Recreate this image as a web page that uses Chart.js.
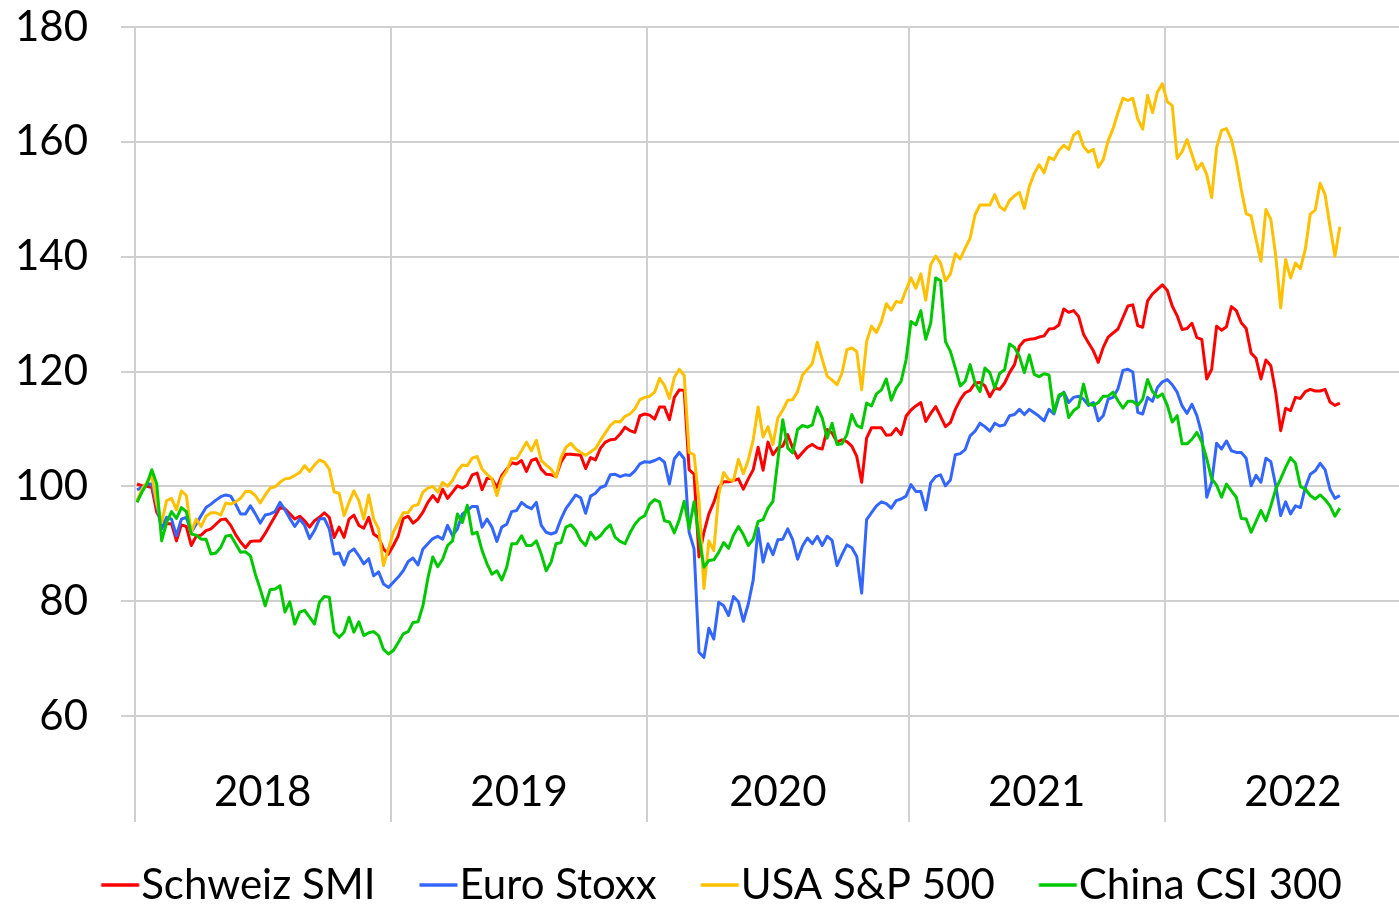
<!DOCTYPE html>
<html>
<head>
<meta charset="utf-8">
<title>Aktienindizes 2018–2022</title>
<script src="https://cdn.jsdelivr.net/npm/chart.js@4.4.1/dist/chart.umd.min.js"></script>
<style>
  html, body { margin: 0; background: #fff; }
  #wrap { width: 1399px; height: 905px; }
</style>
</head>
<body>
<div id="wrap"><canvas id="chart" width="1399" height="905"></canvas></div>
<script>
// weekly closes, indexed to 100 at the start of 2018
const years = ['2018', '2019', '2020', '2021', '2022']
const weeksPerYear = [52, 52, 53, 52, 52]

const smi = [
  100.4, 100.1, 100, 99.8, 95.5, 94, 93.5, 93.5, 90.5, 93.3,
  93, 89.7, 91.3, 91.5, 92.3, 92.6, 93.4, 94.2, 94.3, 93.2,
  91.6, 90.3, 89.3, 90.4, 90.5, 90.5, 91.8, 93.3, 94.8, 96.3,
  96.1, 95.2, 94.3, 94.8, 94, 92.9, 94, 94.6, 95.4, 94.6,
  91.1, 92.9, 91.1, 94.3, 95, 93.2, 92.7, 94.6, 91.7, 91.1,
  89.1, 88.2, 89.7, 91.4, 94.4, 94.8, 93.6, 94.3, 95.5, 97.2,
  98.4, 97.3, 99.5, 97.9, 99, 100.1, 99.7, 100.2, 102, 102.3,
  99.4, 101.4, 101.3, 99.8, 101.9, 103, 104.1, 103.9, 104.5, 102.6,
  104.5, 104.8, 103, 102.1, 102, 101.7, 104.2, 105.6, 105.6, 105.5,
  105.4, 103.1, 105, 104.6, 106.6, 107.7, 108.1, 108.2, 109.1, 110.3,
  109.7, 109.4, 112.3, 112.6, 112.4, 111.7, 113.8, 113.8, 111.6, 115.5,
  116.8, 116.7, 102.9, 102.1, 87.7, 92, 95.2, 97.2, 99.8, 100.8,
  100.8, 101, 101.3, 99.5, 101.3, 102.9, 106.8, 102.8, 107.7, 105.5,
  106.7, 107, 109, 106.7, 104.9, 105.9, 106.8, 107.3, 106.7, 106.5,
  109.9, 109.3, 107.7, 108.1, 107.8, 107, 105.2, 100.7, 108.4, 110.2,
  110.2, 110.2, 108.9, 109, 110.1, 109, 112.2, 113.3, 114, 114.6,
  111.3, 112.7, 113.9, 112.2, 110.4, 111.1, 113.4, 115.1, 116.3, 116.7,
  118, 118.1, 117.5, 115.6, 117.1, 116.9, 118, 119.8, 121.2, 124.4,
  125.4, 125.6, 125.7, 126, 126.2, 127.4, 127.5, 128.1, 130.9, 130.3,
  130.6, 129.6, 126.5, 125, 123.6, 121.6, 124.2, 126, 126.7, 127.4,
  129.4, 131.4, 131.6, 128, 127.7, 132.3, 133.5, 134.3, 135.1, 134.1,
  131.4, 129.7, 127.3, 127.5, 128.4, 125.9, 125.6, 118.7, 120.4, 127.9,
  127.2, 127.8, 131.3, 130.6, 128.5, 127.5, 123.2, 122.3, 118.7, 122,
  121, 116.3, 109.7, 113.6, 113.2, 115.5, 115.3, 116.5, 116.9, 116.6,
  116.6, 116.9, 114.7, 114.1, 114.5
]

const euroStoxx = [
  99.4, 99.8, 100.4, 100.4, 96.6, 92.6, 94.6, 94.3, 91.4, 94.3,
  94.6, 92, 93.4, 94.9, 96.3, 96.9, 97.6, 98.2, 98.5, 98.3,
  96.9, 95.2, 95.2, 96.6, 95.2, 93.6, 95, 95.2, 95.6, 97.2,
  95.9, 94.4, 93, 94.3, 93.2, 90.9, 92.3, 94.3, 94.4, 92.6,
  88.2, 88.4, 86.3, 88.5, 89.1, 87.9, 86.5, 87.4, 84.4, 85.1,
  83, 82.4, 83.3, 84.2, 85.3, 86.9, 87.5, 86.3, 89.1, 90,
  90.9, 91.3, 90.8, 93.2, 91.4, 92.6, 95.2, 95.8, 96.5, 96.5,
  92.9, 94.3, 92.9, 90.4, 92.9, 93.4, 95.6, 95.8, 97.2, 96.5,
  96.1, 97.2, 93.2, 92, 91.7, 92, 94.3, 96.1, 97.3, 98.5,
  98, 95.3, 98.3, 98.8, 99.8, 100.1, 102, 102.1, 101.7, 102,
  101.9, 102.7, 103.9, 104.3, 104.2, 104.5, 104.9, 104.2, 100.4, 104.8,
  105.9, 104.8, 92, 89.1, 71.1, 70.2, 75.3, 73.4, 79.8, 79.2,
  77.5, 80.8, 79.9, 76.5, 79.5, 83.7, 92.7, 86.8, 90, 88.1,
  90.7, 90.8, 92.6, 90.7, 87.3, 89.6, 91, 90, 91.3, 89.7,
  91.3, 90.6, 86.2, 88.1, 89.8, 89.3, 87.8, 81.4, 94.2, 95.4,
  96.6, 97.3, 97, 96.2, 97.5, 97.8, 98.3, 100.3, 99.1, 99.1,
  95.9, 100.6, 101.7, 102, 100.1, 101.1, 105.5, 105.7, 106.4, 108.8,
  109.6, 111, 110.4, 109.6, 111, 110.5, 110.7, 112.3, 112.5, 113.4,
  112.5, 113.4, 112.8, 112.2, 111.4, 113.4, 112.6, 115.5, 116.4, 114.6,
  115.5, 115.7, 115.2, 114.1, 114.6, 111.4, 112.3, 115.2, 115.5, 117,
  120.2, 120.4, 119.9, 112.9, 112.6, 115.5, 114.8, 117.2, 118.2, 118.6,
  117.7, 116.4, 114, 112.7, 114.3, 112.3, 109.1, 98.1, 100.7, 107.5,
  106.5, 107.9, 106.2, 105.9, 105.9, 104.9, 100.1, 101.9, 100.7, 104.9,
  104.3, 100.1, 94.9, 97.3, 95.2, 96.6, 96.3, 99.8, 102.1, 102.7,
  104, 102.9, 99.5, 97.9, 98.4
]

const sp500 = [
  97.5, 99.5, 100.7, 101.9, 97, 93.7, 97.5, 97.9, 95.9, 99.2,
  98.4, 92, 94.3, 93, 94.8, 95.4, 95.4, 95, 97.1, 96.9,
  97.3, 97.9, 99.1, 99.1, 98.4, 97.1, 98.5, 99.7, 99.9, 100.7,
  101.3, 101.4, 101.9, 102.4, 103.6, 102.6, 103.7, 104.6, 104.2, 103,
  99, 98.8, 94.9, 97.2, 99.2, 97.5, 94.3, 98.5, 94.3, 92.6,
  86.2, 89.1, 92, 93.7, 95.4, 95.4, 96.6, 96.8, 99, 99.7,
  100, 99, 100.7, 100, 101, 102.7, 103.7, 103.6, 104.9, 105.2,
  103, 102.1, 101.3, 98.4, 101.4, 102.7, 104.9, 104.8, 106.2, 107.7,
  106.2, 108, 104.5, 103.7, 103, 101.6, 105, 106.8, 107.5, 106.5,
  105.9, 105.4, 106, 106.6, 108, 109.3, 110.6, 111.3, 111.2, 112.2,
  112.6, 113.5, 115.1, 115.5, 115.7, 116.4, 118.8, 117.6, 115.3, 119,
  120.4, 119.3, 105.9, 105.5, 97.5, 82.2, 90.5, 88.8, 98.5, 102.4,
  101.2, 101, 104.7, 102.2, 104.6, 108.1, 113.8, 108.6, 110.4, 107.3,
  111.9, 113.3, 115, 115.1, 116.5, 119.4, 120.4, 121.4, 125.1, 122.1,
  119.2, 118.5, 117.7, 119.7, 123.8, 124.1, 123.5, 116.8, 125.2, 127.9,
  126.8, 128.7, 131.8, 130.7, 132.2, 132, 134.2, 136.3, 134.5, 137,
  132.4, 138.6, 140.1, 138.9, 135.8, 137, 140.5, 139.6, 141.5, 143.2,
  147.3, 149, 149, 149, 150.8, 148.7, 148.1, 149.8, 150.6, 151.2,
  148.4, 152.2, 154.5, 156, 154.6, 157.3, 156.9, 158.5, 159.4, 158.7,
  161.2, 161.8, 159.2, 158.2, 158.7, 155.6, 156.9, 160.2, 162.3, 165.1,
  167.6, 167.2, 167.6, 164, 162.2, 168.1, 165.1, 168.7, 170.1, 167,
  166.3, 157.1, 158.3, 160.4, 157.8, 155.2, 156.3, 154.3, 150.3, 159,
  162, 162.3, 160.4, 156.6, 151.7, 147.5, 147.1, 143, 139.2, 148.2,
  146.5, 140.1, 131.1, 139.5, 136.3, 138.9, 137.9, 141.3, 147.4, 148.1,
  152.8, 150.8, 145.3, 140.1, 145.2
]

const csi300 = [
  97.2, 99, 100.4, 102.9, 100.4, 90.5, 93.7, 95.6, 94.4, 96.3,
  95.6, 91.7, 91.5, 90.8, 90.8, 88.2, 88.4, 89.4, 91.3, 91.5,
  90, 88.5, 88.6, 87.9, 84.7, 82.1, 79.2, 82, 82.1, 82.7,
  78.1, 79.9, 76, 78.1, 78.4, 77.2, 76, 79.8, 80.8, 80.7,
  74.6, 73.7, 74.6, 77.2, 74.6, 76.4, 74, 74.5, 74.7, 74,
  71.6, 70.8, 71.4, 72.8, 74.3, 74.7, 76.3, 76.4, 79.2, 84,
  87.7, 86, 87.3, 89.7, 90.5, 95.2, 93.7, 96.7, 91.7, 92,
  88.8, 86.5, 84.7, 85.3, 83.7, 85.9, 90, 90, 91.4, 89.7,
  89.7, 90.5, 88.2, 85.3, 86.8, 90, 90.2, 92.9, 93.3, 92.3,
  90.6, 89.7, 92, 90.8, 91.4, 92.5, 93.3, 91.1, 90.4, 90,
  91.9, 93.4, 94.4, 94.9, 96.9, 97.7, 97.3, 94, 93.8, 91.9,
  94.2, 97.4, 92.6, 97.3, 91.2, 85.9, 87.1, 87.2, 88.5, 90.2,
  89.2, 91.5, 93, 91.6, 89.7, 90.8, 93.9, 94.2, 96.2, 97.4,
  104.6, 111.6, 106.7, 105.8, 109.9, 110.6, 110.3, 110.7, 113.8, 111.9,
  108.4, 111, 107.3, 107.4, 109, 112.5, 110.6, 110.2, 114.5, 114,
  116.1, 116.8, 118.7, 115, 117.1, 118.3, 122, 128.7, 128.1, 130.6,
  125.6, 128.4, 136.3, 135.8, 125.2, 123.5, 120.6, 117.5, 118.3, 121.2,
  118, 116.5, 120.6, 119.8, 117.1, 119.7, 120.3, 124.8, 124.2, 122.6,
  119.8, 122.9, 119.5, 119.1, 119.6, 119.4, 112.9, 115.9, 116.3, 112,
  113.2, 113.8, 117.8, 114.3, 114.1, 114.6, 115.7, 115.7, 116.4, 114.9,
  113.6, 114.8, 114.8, 114.1, 115.2, 118.6, 116.5, 115.5, 116.1, 114.1,
  111.2, 112.3, 107.4, 107.4, 108.2, 109.4, 107.7, 104.8, 101.3, 100.2,
  98.1, 100.4, 99.2, 98.1, 94.4, 94.3, 92, 93.9, 95.8, 94,
  96.6, 99.5, 101.3, 103.3, 105, 104, 100, 99.5, 98.4, 97.8,
  98.5, 97.7, 96.6, 94.8, 96.2
]

const FONT = 'Lato, "Open Sans", sans-serif'
const FONT_SIZE = 42
const GRID = '#d0d0d0'
const LEGEND_PAD = 0
const MARK_W = 63 // legend box width; the visible line sits at its right end

// year boundaries sit half a week before each year's first point,
// year labels in the middle of each year
const boundaries = []
const yearMid = new Map()
let start = -0.5
years.forEach((y, k) => {
  boundaries.push(start)
  yearMid.set(start + weeksPerYear[k] / 2, y)
  start += weeksPerYear[k]
})
const isBoundary = v => boundaries.includes(v)

const toPoints = values => values.map((v, i) => ({ x: i, y: v }))

// short line that ends right in front of the label text
function lineMarker(color) {
  const c = document.createElement('canvas')
  c.width = 2 * MARK_W + 40
  c.height = 8
  const x0 = 1.5 * MARK_W + 1
  const g = c.getContext('2d')
  g.strokeStyle = color
  g.lineWidth = 3.5
  g.beginPath()
  g.moveTo(x0, 4)
  g.lineTo(x0 + 38, 4)
  g.stroke()
  return c
}

new Chart(document.getElementById('chart'), {
  type: 'line',
  data: {
    datasets: [
      { label: 'Schweiz SMI', data: toPoints(smi), borderColor: '#ff0000', order: 4 },
      { label: 'Euro Stoxx', data: toPoints(euroStoxx), borderColor: '#3366ff', order: 3 },
      { label: 'USA S&P 500', data: toPoints(sp500), borderColor: '#ffc000', order: 2 },
      { label: 'China CSI 300', data: toPoints(csi300), borderColor: '#00c800', order: 1 }
    ]
  },
  options: {
    responsive: false,
    animation: false,
    layout: { padding: { top: 27, right: 0, bottom: -11, left: 0 } },
    elements: {
      point: { radius: 0 },
      line: { borderWidth: 3, tension: 0, borderJoinStyle: 'round' }
    },
    plugins: {
      tooltip: { enabled: false },
      legend: {
        position: 'bottom',
        labels: {
          font: { family: FONT, size: FONT_SIZE },
          color: '#000',
          usePointStyle: true,
          pointStyleWidth: MARK_W,
          padding: LEGEND_PAD,
          sort: (a, b) => a.datasetIndex - b.datasetIndex,
          generateLabels: chart =>
            Chart.defaults.plugins.legend.labels.generateLabels(chart).map(item =>
              Object.assign(item, { pointStyle: lineMarker(item.strokeStyle) }))
        }
      }
    },
    scales: {
      x: {
        type: 'linear',
        min: -3.25,
        max: 256,
        afterBuildTicks: scale => {
          scale.ticks = [...boundaries, ...yearMid.keys()]
            .sort((a, b) => a - b)
            .map(value => ({ value }))
        },
        afterFit: scale => { scale.height = 148 - LEGEND_PAD },
        border: { display: false },
        grid: {
          color: ctx => (isBoundary(ctx.tick.value) ? GRID : 'rgba(0,0,0,0)'),
          lineWidth: 2,
          tickLength: 106
        },
        ticks: {
          autoSkip: false,
          maxRotation: 0,
          padding: -55,
          color: '#000',
          font: { family: FONT, size: FONT_SIZE },
          callback: value => yearMid.get(value) || ''
        }
      },
      y: {
        min: 60,
        max: 180,
        afterFit: scale => { scale.width = 121 },
        border: { display: false },
        grid: {
          color: GRID,
          lineWidth: 2,
          tickLength: 33,
          tickColor: 'rgba(0,0,0,0)'
        },
        ticks: {
          stepSize: 20,
          padding: 0,
          color: '#000',
          font: { family: FONT, size: FONT_SIZE }
        }
      }
    }
  }
})
</script>
</body>
</html>
